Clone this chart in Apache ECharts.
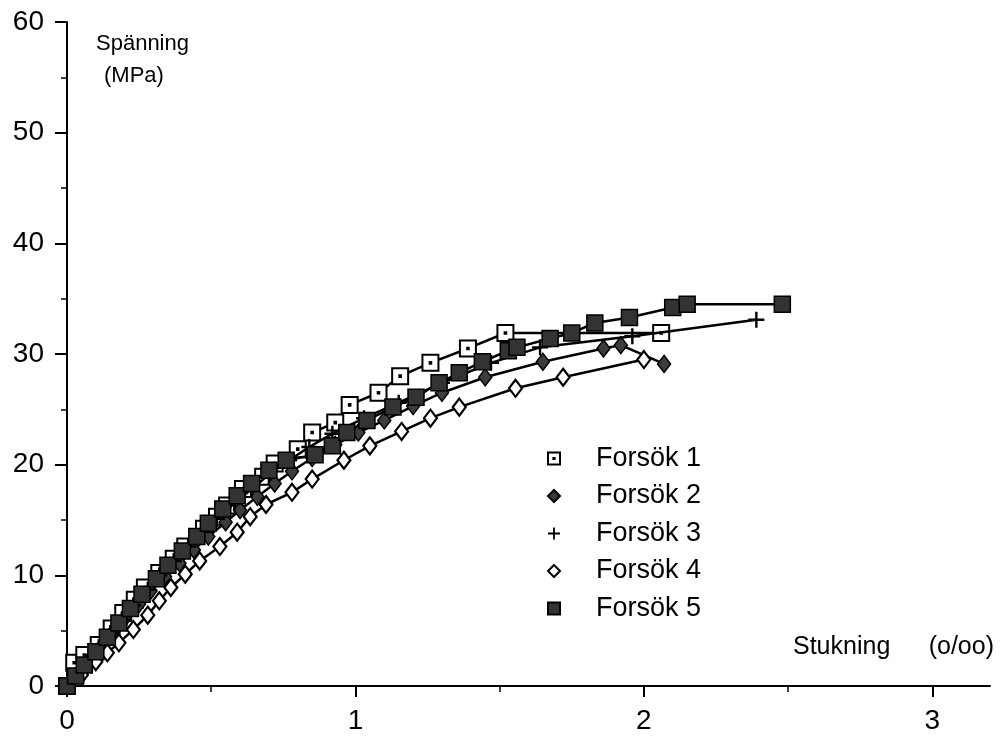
<!DOCTYPE html>
<html>
<head>
<meta charset="utf-8">
<script src="https://cdn.jsdelivr.net/npm/echarts@6/dist/echarts.min.js"></script>
<style>
  html, body { margin: 0; padding: 0; background: #fff; }
  #chart { width: 1000px; height: 748px; }
</style>
</head>
<body>
<div id="chart"></div>
<script>
// Stress–strain test series (strain in o/oo, stress in MPa)
const seriesNames = ['Forsök 1', 'Forsök 2', 'Forsök 3', 'Forsök 4', 'Forsök 5'];

const strain1 = [0, 0.025, 0.06, 0.11, 0.155, 0.195, 0.235, 0.27, 0.32, 0.37, 0.41, 0.475, 0.52, 0.555, 0.61, 0.68, 0.72, 0.80, 0.85, 0.93, 0.98, 1.08, 1.155, 1.26, 1.39, 1.52, 2.06];
const stress1 = [0, 2.1, 2.8, 3.7, 5.2, 6.6, 7.8, 8.9, 10.2, 11.5, 12.6, 14.2, 15.3, 16.3, 17.8, 18.9, 20.1, 21.4, 22.9, 23.8, 25.4, 26.5, 28.0, 29.2, 30.5, 31.9, 31.9];

const strain2 = [0, 0.04, 0.08, 0.12, 0.16, 0.2, 0.25, 0.29, 0.34, 0.39, 0.44, 0.49, 0.55, 0.6, 0.66, 0.72, 0.78, 0.85, 0.93, 1.01, 1.1, 1.2, 1.3, 1.45, 1.65, 1.86, 1.92, 2.07];
const stress2 = [0, 1.0, 2.3, 3.6, 4.9, 6.1, 7.4, 8.6, 9.9, 11.1, 12.3, 13.5, 14.8, 15.9, 17.1, 18.3, 19.4, 20.6, 21.8, 22.9, 24.0, 25.3, 26.5, 27.9, 29.3, 30.5, 30.8, 29.1];

const strain3 = [0, 0.03, 0.07, 0.11, 0.15, 0.19, 0.23, 0.28, 0.32, 0.37, 0.42, 0.47, 0.52, 0.58, 0.64, 0.70, 0.77, 0.84, 0.92, 1.03, 1.15, 1.3, 1.47, 1.64, 1.96, 2.39];
const stress3 = [0, 1.0, 2.2, 3.5, 4.8, 6.0, 7.3, 8.7, 10.0, 11.3, 12.6, 13.9, 15.1, 16.5, 17.8, 19.1, 20.4, 21.6, 22.8, 24.2, 25.6, 27.4, 29.2, 30.6, 31.6, 33.1];

const strain4 = [0, 0.05, 0.1, 0.14, 0.18, 0.23, 0.28, 0.32, 0.36, 0.41, 0.46, 0.53, 0.59, 0.635, 0.69, 0.78, 0.85, 0.96, 1.05, 1.16, 1.26, 1.36, 1.555, 1.72, 2.0];
const stress4 = [0, 1.0, 2.2, 3.0, 3.9, 5.1, 6.4, 7.7, 8.9, 10.1, 11.3, 12.6, 13.9, 15.3, 16.4, 17.5, 18.7, 20.4, 21.7, 23.0, 24.2, 25.2, 26.9, 27.9, 29.5];

const strain5 = [0, 0.03, 0.06, 0.1, 0.14, 0.18, 0.22, 0.26, 0.31, 0.35, 0.4, 0.45, 0.49, 0.54, 0.59, 0.64, 0.7, 0.76, 0.86, 0.92, 0.97, 1.04, 1.13, 1.21, 1.29, 1.36, 1.44, 1.53, 1.56, 1.675, 1.75, 1.83, 1.95, 2.1, 2.15, 2.48];
const stress5 = [0, 0.9, 1.9, 3.1, 4.4, 5.7, 7.0, 8.3, 9.7, 10.9, 12.2, 13.5, 14.7, 16.0, 17.2, 18.3, 19.5, 20.4, 20.9, 21.7, 22.9, 24.0, 25.2, 26.1, 27.4, 28.3, 29.3, 30.3, 30.6, 31.4, 31.9, 32.8, 33.3, 34.2, 34.5, 34.5];

const xMajorTicks = [0, 1, 2, 3];
const xMinorTicks = [0.5, 1.5, 2.5];

const yAxisTitle = ['Spänning', '(MPa)'];
const xAxisTitle = ['Stukning', '(o/oo)'];

const FONT = '"Liberation Sans", Arial, Helvetica, sans-serif';

// Marker shapes
const squareDot = 'path://M0,0H20V20H0Z M9,9H11V11H9Z';
const plusMark = 'path://M8.5,0H11.5V8.5H20V11.5H11.5V20H8.5V11.5H0V8.5H8.5Z';

const zip = (xs, ys) => xs.map((x, i) => [x, ys[i]]);

const markers = [
  { symbol: squareDot, size: 16, fill: '#ffffff', border: 2 },
  { symbol: 'diamond', size: [13, 17], fill: '#3c3c3c', border: 1.5 },
  { symbol: plusMark, size: 16, fill: '#000000', border: 0 },
  { symbol: 'diamond', size: [13, 17], fill: '#ffffff', border: 2.2 },
  { symbol: 'rect', size: 16, fill: '#333333', border: 1.5 }
];

const datasets = [
  zip(strain1, stress1),
  zip(strain2, stress2),
  zip(strain3, stress3),
  zip(strain4, stress4),
  zip(strain5, stress5)
];

const chart = echarts.init(document.getElementById('chart'), null, { renderer: 'canvas' });

const series = datasets.map((d, i) => ({
  name: seriesNames[i],
  type: 'line',
  xAxisIndex: 0,
  yAxisIndex: 0,
  data: d,
  symbol: markers[i].symbol,
  symbolSize: markers[i].size,
  showAllSymbol: true,
  lineStyle: { color: '#000', width: 2.5 },
  itemStyle: { color: markers[i].fill, borderColor: '#000', borderWidth: markers[i].border, opacity: 1 },
  emphasis: { disabled: true },
  animation: false,
  z: 2 + i
}));

const option = {
  animation: false,
  backgroundColor: '#ffffff',
  textStyle: { fontFamily: FONT },
  grid: { left: 67, right: 10, top: 22, bottom: 62, containLabel: false },
  legend: {
    orient: 'vertical',
    left: 511,
    top: 440,
    itemWidth: 74,
    itemHeight: 15,
    itemGap: 10.5,
    lineStyle: { opacity: 0 },
    textStyle: { fontFamily: FONT, fontSize: 27, color: '#000', lineHeight: 27 },
    selectedMode: false,
    data: seriesNames
  },
  xAxis: [
    {
      type: 'value',
      min: 0,
      max: 3.2,
      position: 'bottom',
      axisLine: { onZero: false, lineStyle: { color: '#000', width: 2 } },
      axisTick: { show: true, inside: false, length: 11, lineStyle: { color: '#000', width: 2 }, customValues: xMajorTicks },
      axisLabel: { color: '#000', fontSize: 28, fontFamily: FONT, margin: 21, customValues: xMajorTicks },
      splitLine: { show: false }
    },
    {
      type: 'value',
      min: 0,
      max: 3.2,
      position: 'bottom',
      axisLine: { show: false },
      axisTick: { show: true, length: 6, lineStyle: { color: '#000', width: 1.5 }, customValues: xMinorTicks },
      axisLabel: { show: false },
      splitLine: { show: false }
    }
  ],
  yAxis: {
    type: 'value',
    min: 0,
    max: 60,
    interval: 10,
    axisLine: { show: true, onZero: false, lineStyle: { color: '#000', width: 2 } },
    axisTick: { show: true, length: 12, lineStyle: { color: '#000', width: 2 } },
    minorTick: { show: true, splitNumber: 2, length: 6, lineStyle: { color: '#000', width: 1.5 } },
    axisLabel: { color: '#000', fontSize: 28, fontFamily: FONT, margin: 23 },
    splitLine: { show: false },
    minorSplitLine: { show: false }
  },
  graphic: [
    { type: 'text', left: 96, top: 33, style: { text: yAxisTitle[0], fontSize: 22, fontFamily: FONT, fill: '#000' } },
    { type: 'text', left: 104, top: 65, style: { text: yAxisTitle[1], fontSize: 22, fontFamily: FONT, fill: '#000' } },
    { type: 'text', left: 793, top: 635, style: { text: xAxisTitle[0], fontSize: 25, fontFamily: FONT, fill: '#000' } },
    { type: 'text', right: 6, top: 635, style: { text: xAxisTitle[1], fontSize: 25, fontFamily: FONT, fill: '#000' } }
  ],
  series: series
};

chart.setOption(option);
</script>
</body>
</html>
